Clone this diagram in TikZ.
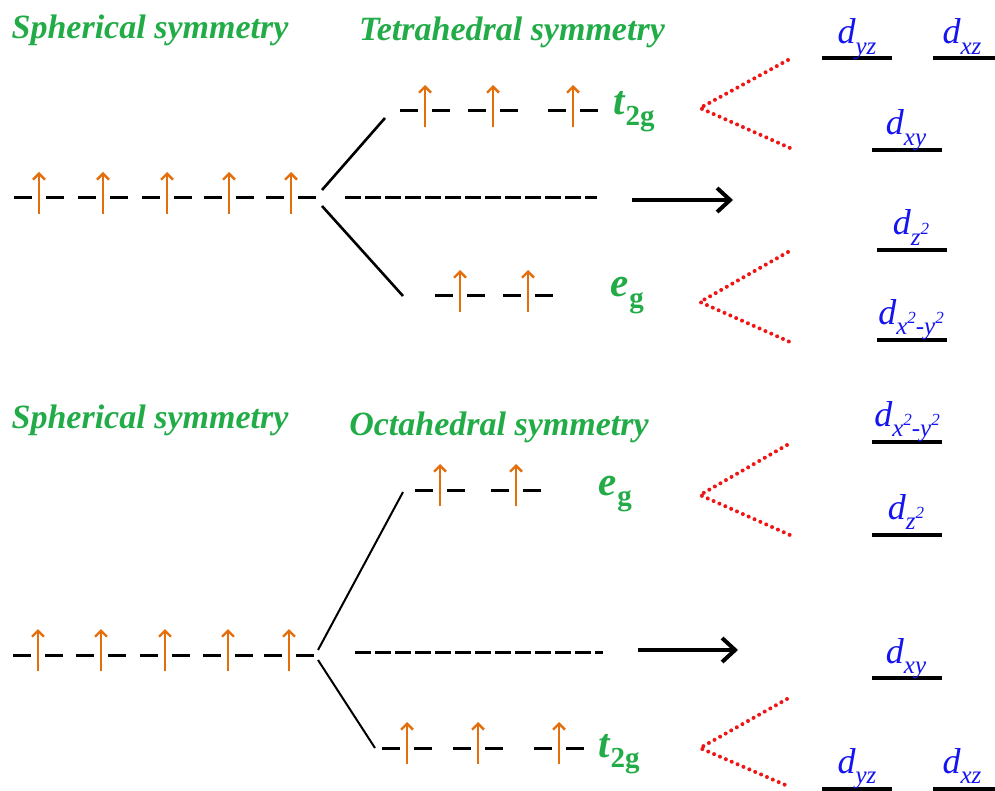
\documentclass[tikz,border=0pt]{standalone}
\usepackage{fontspec}
\setmainfont{Liberation Serif}
\usetikzlibrary{arrows.meta}
\definecolor{grn}{RGB}{34,172,72}
\definecolor{org}{RGB}{228,110,12}
\definecolor{blu}{RGB}{20,20,240}
\definecolor{rdd}{RGB}{240,20,20}
\newcommand{\Sb}[1]{\raisebox{-0.28em}{\fontsize{25}{25}\selectfont #1}}
\newcommand{\Sp}[1]{\raisebox{0.42em}{\fontsize{17}{17}\selectfont #1}}
\newcommand{\gsub}[2]{#1\kern1pt\raisebox{-0.25em}{\fontsize{29}{29}\selectfont\upshape #2}}
\newcommand{\orb}[3]{%
  \coordinate (#1) at (#2,#3);
  \draw[lvl] ([xshift=-25pt]#1) -- ([xshift=-7pt]#1);
  \draw[lvl] ([xshift=7pt]#1) -- ([xshift=25pt]#1);
  \draw[spin] ([yshift=-16pt]#1) -- ([yshift=26pt]#1);}
\newcommand{\dlv}[4]{% name, x1, x2, y
  \coordinate (#1a) at (#2,#4); \coordinate (#1b) at (#3,#4);
  \draw[dline] (#1a) -- (#1b);}
\begin{document}
\begin{tikzpicture}[x=1pt,y=-1pt,
  title/.style={font=\fontsize{34}{38}\selectfont\bfseries\itshape, text=grn, inner sep=0pt},
  glab/.style={font=\fontsize{41}{44}\selectfont\bfseries\itshape, text=grn, inner sep=0pt, anchor=base west},
  dlab/.style={font=\fontsize{36}{40}\selectfont\itshape, text=blu, inner sep=0pt, anchor=base},
  lvl/.style={line width=3pt, black},
  spin/.style={line width=2.4pt, org, -{Straight Barb[length=6pt,width=12pt,line width=2.4pt]}},
  split/.style={line width=2.6pt, black},
  dashl/.style={line width=3pt, dash pattern=on 16pt off 4pt},
  bigarrow/.style={line width=4pt, -{Straight Barb[length=13pt,width=24pt,line width=4pt]}},
  red dots/.style={rdd, line width=4pt, line cap=round, dash pattern=on 0pt off 6.4pt},
  dline/.style={line width=3.5pt, black}]
\useasboundingbox (0,0) rectangle (995,791);
\fill[white] (0,0) rectangle (995,791);

% ===== Top: tetrahedral =====
\node[title] (s1) at (150,30) {Spherical symmetry};
\node[title] (t1) at (512,32) {Tetrahedral symmetry};
\orb{a1}{39}{198}\orb{a2}{103}{198}\orb{a3}{167}{198}\orb{a4}{229}{198}\orb{a5}{291}{198}
\coordinate (tsu) at (322,190); \coordinate (teu) at (385,118);
\coordinate (tsd) at (322,206); \coordinate (ted) at (403,296);
\draw[split] (tsu) -- (teu);
\draw[split] (tsd) -- (ted);
\coordinate (td1) at (345,198); \coordinate (td2) at (597,198);
\draw[dashl] (td1) -- (td2);
\coordinate (ta1) at (632,200); \coordinate (ta2) at (733,200);
\draw[bigarrow] (ta1) -- (ta2);
\orb{b1}{425}{111}\orb{b2}{493}{111}\orb{b3}{573}{111}
\node[glab] (t2g1) at (613,115) {\gsub{t}{2g}};
\orb{c1}{460}{296}\orb{c2}{528}{296}
\node[glab] (eg1) at (610,297) {\gsub{e}{g}};
\coordinate (r1a) at (788,60); \coordinate (r1v) at (700,108); \coordinate (r1b) at (790,148);
\draw[red dots] (r1a) -- (r1v) -- (r1b);
\coordinate (r2a) at (788,252); \coordinate (r2v) at (700,302); \coordinate (r2b) at (790,342);
\draw[red dots] (r2a) -- (r2v) -- (r2b);
\dlv{u1}{822}{892}{58}\dlv{u2}{933}{995}{58}
\dlv{u3}{872}{942}{150}\dlv{u4}{877}{947}{250}\dlv{u5}{877}{947}{340}
\node[dlab] (ldyz1) at (857,44) {d\Sb{yz}};
\node[dlab] (ldxz1) at (962,44) {d\Sb{xz}};
\node[dlab] (ldxy1) at (906,135) {d\Sb{xy}};
\node[dlab] (ldz1) at (911,235) {d\Sb{z\Sp{2}}};
\node[dlab] (ldx1) at (911,324) {d\Sb{x\Sp{2}-y\Sp{2}}};

% ===== Bottom: octahedral =====
\node[title] (s2) at (150,420) {Spherical symmetry};
\node[title] (o2) at (499,427) {Octahedral symmetry};
\orb{e1}{38}{655}\orb{e2}{101}{655}\orb{e3}{165}{655}\orb{e4}{228}{655}\orb{e5}{289}{655}
\coordinate (osu) at (318,650); \coordinate (oeu) at (403,492);
\coordinate (osd) at (318,660); \coordinate (oed) at (375,748);
\draw[line width=2pt] (osu) -- (oeu);
\draw[line width=2pt] (osd) -- (oed);
\coordinate (od1) at (355,652); \coordinate (od2) at (603,652);
\draw[dashl] (od1) -- (od2);
\coordinate (oa1) at (638,650); \coordinate (oa2) at (738,650);
\draw[bigarrow] (oa1) -- (oa2);
\orb{f1}{440}{490}\orb{f2}{516}{490}
\node[glab] (eg2) at (598,495) {\gsub{e}{g}};
\orb{g1}{407}{748}\orb{g2}{478}{748}\orb{g3}{559}{748}
\node[glab] (t2g2) at (598,757) {\gsub{t}{2g}};
\coordinate (r3a) at (787,445); \coordinate (r3v) at (700,495); \coordinate (r3b) at (790,535);
\draw[red dots] (r3a) -- (r3v) -- (r3b);
\coordinate (r4a) at (787,699); \coordinate (r4v) at (700,748); \coordinate (r4b) at (790,787);
\draw[red dots] (r4a) -- (r4v) -- (r4b);
\dlv{w1}{872}{942}{442}\dlv{w2}{872}{942}{535}\dlv{w3}{872}{942}{678}
\dlv{w4}{822}{892}{789}\dlv{w5}{933}{995}{789}
\node[dlab] (ldx2) at (907,426) {d\Sb{x\Sp{2}-y\Sp{2}}};
\node[dlab] (ldz2) at (906,519) {d\Sb{z\Sp{2}}};
\node[dlab] (ldxy2) at (906,663) {d\Sb{xy}};
\node[dlab] (ldyz2) at (857,773) {d\Sb{yz}};
\node[dlab] (ldxz2) at (962,773) {d\Sb{xz}};
\end{tikzpicture}
\end{document}
